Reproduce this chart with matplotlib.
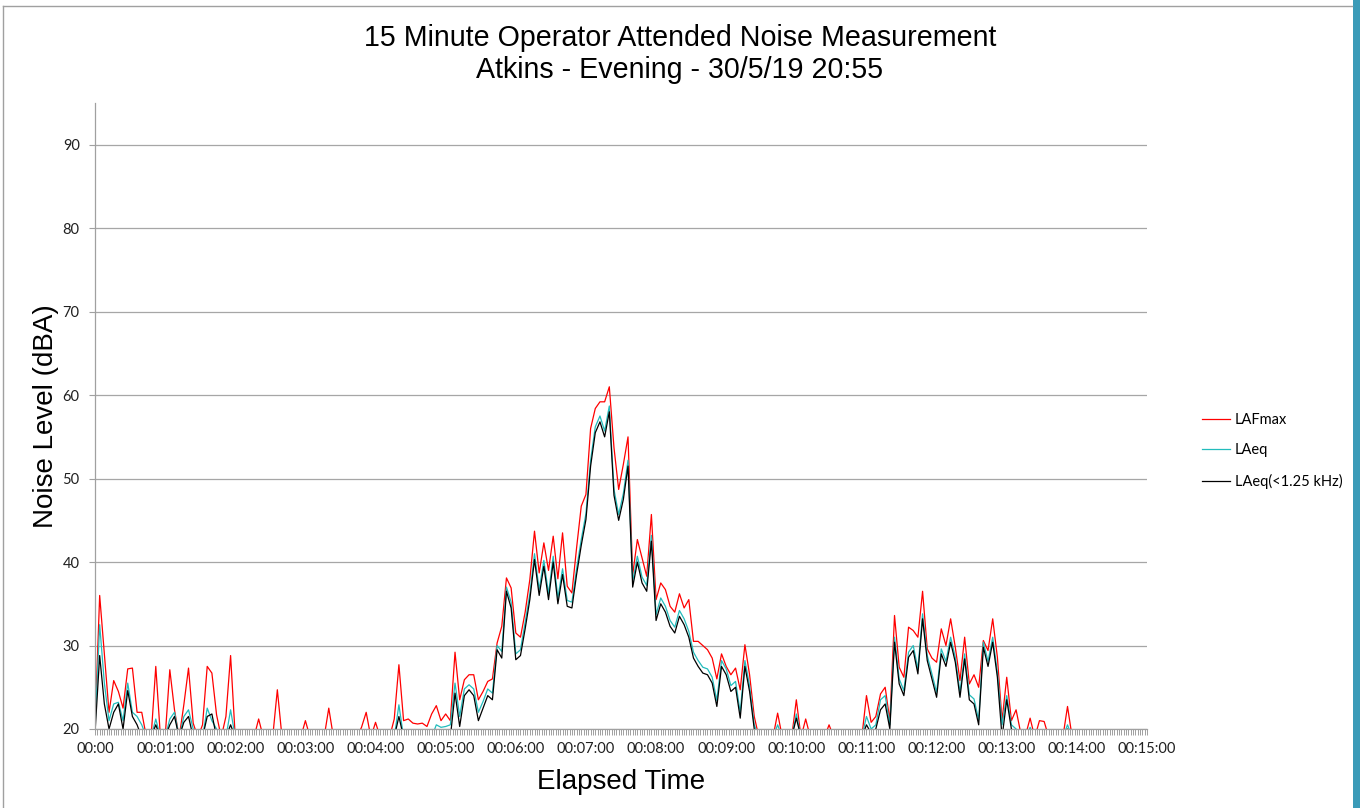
import numpy as np
import matplotlib
matplotlib.use("Agg")
import matplotlib.pyplot as plt
import matplotlib.ticker as ticker
from matplotlib.lines import Line2D
from matplotlib.patches import Rectangle

# elapsed time in seconds, one reading every 4 s
t = np.arange(0, 901, 4)

# LAFmax, one row per minute (15 readings) + final reading
lafmax = [
    20.5, 36.0, 29.0, 22.0, 25.8, 24.5, 22.5, 27.2, 27.3, 22.0, 22.0, 19, 19, 27.5, 19,
    19, 27.1, 22.3, 19, 22.9, 27.3, 20.7, 19, 20.5, 27.5, 26.7, 21.7, 19, 21.5, 28.8,
    19, 19, 19, 19, 19, 21.2, 19, 19, 19, 24.7, 19, 19, 19, 19, 19,
    21.0, 19, 19, 19, 19, 22.5, 19, 19, 19, 19, 19, 19, 20.2, 22.0, 19,
    20.8, 19, 19, 19, 21.2, 27.7, 21.0, 21.2, 20.7, 20.6, 20.7, 20.3, 21.8, 22.8, 21.0,
    21.8, 21.0, 29.2, 23.5, 25.9, 26.5, 26.5, 23.5, 24.5, 25.7, 26.0, 30.3, 32.3, 38.1, 36.9,
    31.5, 31.0, 34.0, 37.9, 43.7, 38.7, 42.3, 39.0, 43.1, 38.0, 43.5, 37.1, 36.3, 41.7, 46.7,
    48.1, 56.0, 58.4, 59.2, 59.2, 61.0, 53.7, 48.7, 51.7, 55.0, 38.5, 42.7, 40.5, 38.3, 45.7,
    35.5, 37.5, 36.7, 34.7, 34.0, 36.2, 34.5, 35.5, 30.5, 30.5, 30.0, 29.5, 28.5, 26.0, 29.0,
    27.5, 26.5, 27.3, 24.7, 30.1, 26.5, 21.5, 19, 19, 19, 19, 21.9, 19, 19, 19,
    23.5, 19, 21.2, 19, 19, 19, 19, 20.5, 19, 19, 19, 19, 19, 19, 19,
    24.0, 20.8, 21.5, 24.2, 25.0, 21.0, 33.6, 27.4, 26.2, 32.2, 31.8, 31.0, 36.5, 29.6, 28.5,
    28.0, 32.0, 30.0, 33.2, 29.8, 25.8, 31.0, 25.4, 26.5, 25.0, 30.6, 29.4, 33.2, 28.6, 21.0,
    26.2, 21.0, 22.3, 19.5, 19.2, 21.3, 19, 21.0, 20.9, 19, 19, 19, 19, 22.7, 19,
    19, 19, 19, 19, 19, 19, 19, 19, 19, 19, 19, 19, 19, 19, 19,
    19,
]

laeq = [
    20.2, 32.5, 25.5, 21.0, 23.0, 23.2, 21.0, 25.5, 22.0, 21.5, 20.5, 19, 19, 21.2, 19,
    19, 21.2, 22.0, 19, 21.5, 22.3, 20.0, 19, 19, 22.5, 21.0, 20.0, 19, 19, 22.3,
    19, 19, 19, 19, 19, 19, 19, 19, 19, 19, 19, 19, 19, 19, 19,
    19, 19, 19, 19, 19, 19, 19, 19, 19, 19, 19, 19, 19, 19, 19,
    19, 19, 19, 19, 19, 22.9, 19, 19, 19, 19, 19, 19, 19, 20.5, 20.2,
    20.3, 20.5, 25.5, 21.5, 24.8, 25.3, 24.8, 22.0, 23.3, 24.8, 24.3, 30.0, 29.3, 37.0, 35.2,
    29.0, 29.5, 32.8, 36.2, 41.0, 36.7, 40.2, 36.2, 40.7, 35.7, 39.2, 35.4, 35.2, 39.2, 42.7,
    45.8, 52.2, 56.2, 57.5, 55.7, 58.7, 48.7, 45.7, 48.2, 52.2, 37.7, 40.7, 38.2, 37.2, 43.2,
    33.7, 35.7, 34.7, 33.0, 32.2, 34.2, 33.2, 31.7, 29.2, 28.2, 27.4, 27.2, 26.2, 23.4, 28.2,
    27.2, 25.2, 25.7, 22.0, 28.2, 25.2, 20.5, 19, 19, 19, 19, 20.5, 19, 19, 19,
    21.8, 19, 19.5, 19, 19, 19, 19, 19, 19, 19, 19, 19, 19, 19, 19,
    21.5, 20.0, 20.5, 23.5, 24.0, 20.5, 31.0, 26.0, 24.6, 29.2, 30.0, 27.2, 33.8, 28.8, 26.6,
    24.4, 29.6, 28.1, 31.0, 28.6, 24.4, 29.0, 24.1, 23.6, 21.1, 30.4, 28.1, 31.0, 26.8, 20.5,
    24.0, 20.5, 20.0, 19, 19, 20.2, 19, 19, 19, 19, 19, 19, 19, 20.5, 19,
    19, 19, 19, 19, 19, 19, 19, 19, 19, 19, 19, 19, 19, 19, 19,
    19,
]

laeq_low = [
    19.5, 28.8, 23.0, 20.0, 22.0, 23.0, 20.0, 24.6, 21.5, 20.5, 19, 19, 19, 20.5, 19,
    19, 20.5, 21.5, 19, 20.8, 21.5, 19, 19, 19, 21.5, 21.8, 19, 19, 19, 20.5,
    19, 19, 19, 19, 19, 19, 19, 19, 19, 19, 19, 19, 19, 19, 19,
    19, 19, 19, 19, 19, 19, 19, 19, 19, 19, 19, 19, 19, 19, 19,
    19, 19, 19, 19, 19, 21.5, 19, 19, 19, 19, 19, 19, 19, 19, 19,
    19, 19, 24.3, 20.3, 24.0, 24.7, 24.0, 21.0, 22.5, 24.0, 23.5, 29.5, 28.5, 36.5, 34.5,
    28.3, 28.8, 32.0, 35.5, 40.3, 36.0, 39.5, 35.5, 40.0, 35.0, 38.5, 34.7, 34.5, 38.5, 42.0,
    45.1, 51.5, 55.5, 56.8, 55.0, 58.0, 48.0, 45.0, 47.5, 51.5, 37.0, 40.0, 37.5, 36.5, 42.5,
    33.0, 35.0, 34.0, 32.3, 31.5, 33.5, 32.5, 31.0, 28.5, 27.5, 26.7, 26.5, 25.5, 22.7, 27.5,
    26.5, 24.5, 25.0, 21.3, 27.5, 24.5, 20.0, 19, 19, 19, 19, 19.5, 19, 19, 19,
    21.3, 19, 19, 19, 19, 19, 19, 19, 19, 19, 19, 19, 19, 19, 19,
    20.5, 19.5, 20.0, 22.3, 23.0, 20.0, 30.4, 25.4, 24.0, 28.6, 29.4, 26.6, 33.2, 28.2, 26.0,
    23.8, 29.0, 27.5, 30.4, 28.0, 23.8, 28.4, 23.5, 23.0, 20.5, 29.8, 27.5, 30.4, 26.2, 19,
    23.5, 20.0, 19.5, 19, 19, 19, 19, 19, 19, 19, 19, 19, 19, 20.0, 19,
    19, 19, 19, 19, 19, 19, 19, 19, 19, 19, 19, 19, 19, 19, 19,
    19,
]

minute_labels = ["00:00"] + ["00:%02d:00" % m for m in range(1, 16)]

fig = plt.figure(figsize=(13.6, 8.08), dpi=100)
ax = fig.add_axes([95 / 1360, 1 - 729 / 808, 1052 / 1360, 626 / 808])

ax.plot(t, lafmax, color="#ff0000", lw=0.9, label="LAFmax")
ax.plot(t, laeq, color="#22bcbc", lw=0.9, label="LAeq")
ax.plot(t, laeq_low, color="#000000", lw=0.9, label="LAeq(<1.25 kHz)")

ax.set_xlim(0, 900)
ax.set_ylim(20, 95)
ax.set_yticks(range(20, 91, 10))
ax.set_xticks(range(0, 901, 60))
ax.set_xticklabels(minute_labels)
ax.xaxis.set_minor_locator(ticker.MultipleLocator(2))
ax.grid(axis="y", color="#a6a6a6", lw=0.9)
ax.set_axisbelow(True)

for s in ["top", "right"]:
    ax.spines[s].set_visible(False)
for s in ["left", "bottom"]:
    ax.spines[s].set_color("#a0a0a0")
    ax.spines[s].set_linewidth(0.9)

ax.tick_params(axis="x", which="both", length=4.5, width=0.7, color="#a0a0a0",
               labelsize=10.5, pad=5)
ax.tick_params(axis="y", length=4, width=0.8, color="#a0a0a0", labelsize=10.5, pad=7)
for lab in ax.get_xticklabels() + ax.get_yticklabels():
    lab.set_fontfamily("Lato")
    lab.set_color("#202020")

ax.set_xlabel("Elapsed Time", fontsize=20, family="Liberation Sans")
ax.xaxis.set_label_coords(0.5, -0.064)
ax.set_ylabel("Noise Level (dBA)", fontsize=20, family="Liberation Sans")
ax.yaxis.set_label_coords(-0.034, 0.5)

fig.text(0.5, 1 - 38 / 808, "15 Minute Operator Attended Noise Measurement",
         ha="center", va="center", fontsize=20.6, family="Liberation Sans")
fig.text(0.5, 1 - 70 / 808, "Atkins - Evening - 30/5/19 20:55",
         ha="center", va="center", fontsize=20.6, family="Liberation Sans")

leg = fig.legend(loc="center left", bbox_to_anchor=(1189 / 1360, 1 - 451 / 808),
                 frameon=False, handlelength=1.9, handletextpad=0.35, labelspacing=1.15,
                 prop={"family": "Lato", "size": 10.5})

# chart border and the window edge on the right
fig.add_artist(Line2D([3 / 1360, 3 / 1360], [0, 1 - 6 / 808], color="#a0a0a0", lw=1))
fig.add_artist(Line2D([3 / 1360, 1352 / 1360], [1 - 6 / 808, 1 - 6 / 808], color="#a0a0a0", lw=1))
fig.add_artist(Rectangle((1353 / 1360, 0), 7 / 1360, 1, transform=fig.transFigure,
                         color="#3b9bb8", lw=0))

fig.savefig("out.png", dpi=100)
